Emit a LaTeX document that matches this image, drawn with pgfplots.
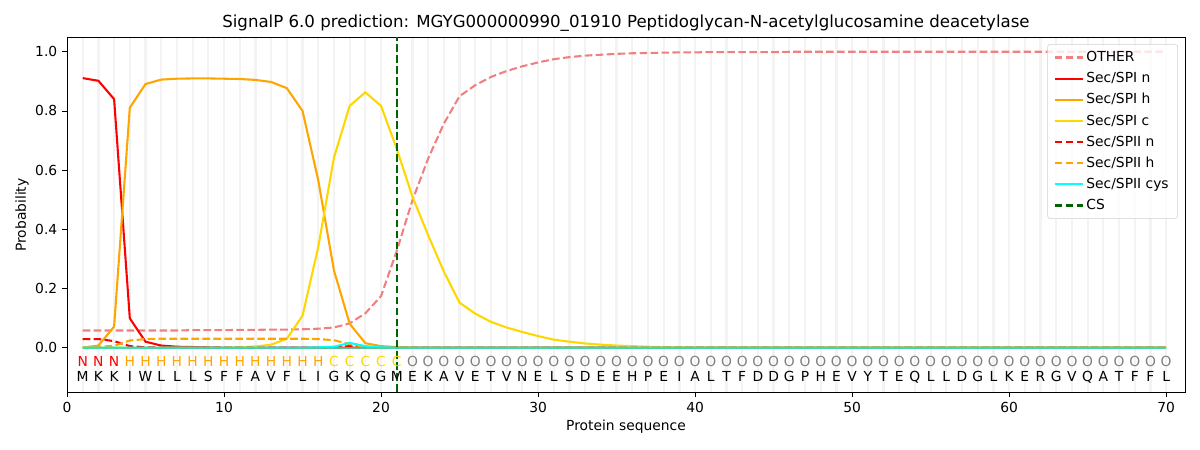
\documentclass[border=0pt]{standalone}
\usepackage{fontspec}
\setmainfont{DejaVu Sans}
\usepackage{pgfplots}
\usepackage{pgfplotstable}
\pgfplotsset{compat=1.18}
\definecolor{otherc}{HTML}{F08080}
\definecolor{orangeM}{HTML}{FFA500}
\definecolor{goldM}{HTML}{FFD700}
\definecolor{dgreen}{HTML}{006400}
\definecolor{gridc}{HTML}{F3F3F3}
\definecolor{greyM}{HTML}{808080}
\definecolor{cyanM}{HTML}{00FFFF}
\definecolor{tealM}{HTML}{3CD8A8}
\pgfplotstableread{
x other spin spih spic spiin spiih cys
1 0.058 0.911 0.000 0.000 0.029 0.000 0.000
2 0.058 0.902 0.007 0.000 0.029 0.003 0.000
3 0.058 0.840 0.071 0.000 0.022 0.006 0.000
4 0.058 0.099 0.811 0.000 0.005 0.024 0.000
5 0.058 0.020 0.891 0.000 0.001 0.029 0.000
6 0.058 0.007 0.906 0.000 0.000 0.030 0.000
7 0.058 0.003 0.909 0.000 0.000 0.030 0.000
8 0.059 0.002 0.910 0.000 0.000 0.030 0.000
9 0.059 0.001 0.910 0.000 0.000 0.030 0.000
10 0.059 0.000 0.909 0.000 0.000 0.030 0.000
11 0.060 0.000 0.908 0.001 0.000 0.030 0.000
12 0.060 0.000 0.905 0.004 0.000 0.030 0.000
13 0.061 0.000 0.898 0.010 0.000 0.030 0.000
14 0.061 0.000 0.877 0.030 0.000 0.030 0.000
15 0.062 0.000 0.800 0.108 0.000 0.030 0.000
16 0.064 0.000 0.566 0.340 0.000 0.029 0.001
17 0.068 0.000 0.261 0.642 0.001 0.025 0.003
18 0.082 0.000 0.081 0.817 0.005 0.012 0.016
19 0.116 0.000 0.015 0.863 0.001 0.002 0.005
20 0.174 0.000 0.005 0.817 0.000 0.000 0.001
21 0.327 0.000 0.002 0.672 0.000 0.000 0.000
22 0.498 0.000 0.000 0.510 0.000 0.000 0.000
23 0.639 0.000 0.000 0.380 0.000 0.000 0.000
24 0.757 0.000 0.000 0.257 0.000 0.000 0.000
25 0.850 0.000 0.000 0.152 0.000 0.000 0.000
26 0.887 0.000 0.000 0.115 0.000 0.000 0.000
27 0.915 0.000 0.000 0.087 0.000 0.000 0.000
28 0.935 0.000 0.000 0.068 0.000 0.000 0.000
29 0.951 0.000 0.000 0.053 0.000 0.000 0.000
30 0.964 0.000 0.000 0.039 0.000 0.000 0.000
31 0.975 0.000 0.000 0.027 0.000 0.000 0.000
32 0.982 0.000 0.000 0.020 0.000 0.000 0.000
33 0.987 0.000 0.000 0.014 0.000 0.000 0.000
34 0.990 0.000 0.000 0.010 0.000 0.000 0.000
35 0.993 0.000 0.000 0.007 0.000 0.000 0.000
36 0.995 0.000 0.000 0.005 0.000 0.000 0.000
37 0.996 0.000 0.000 0.003 0.000 0.000 0.000
38 0.997 0.000 0.000 0.002 0.000 0.000 0.000
39 0.998 0.000 0.000 0.001 0.000 0.000 0.000
40 0.998 0.000 0.000 0.000 0.000 0.000 0.000
41 0.999 0.000 0.000 0.000 0.000 0.000 0.000
42 0.999 0.000 0.000 0.000 0.000 0.000 0.000
43 0.999 0.000 0.000 0.000 0.000 0.000 0.000
44 0.999 0.000 0.000 0.000 0.000 0.000 0.000
45 0.999 0.000 0.000 0.000 0.000 0.000 0.000
46 1.000 0.000 0.000 0.000 0.000 0.000 0.000
47 1.000 0.000 0.000 0.000 0.000 0.000 0.000
48 1.000 0.000 0.000 0.000 0.000 0.000 0.000
49 1.000 0.000 0.000 0.000 0.000 0.000 0.000
50 1.000 0.000 0.000 0.000 0.000 0.000 0.000
51 1.000 0.000 0.000 0.000 0.000 0.000 0.000
52 1.000 0.000 0.000 0.000 0.000 0.000 0.000
53 1.000 0.000 0.000 0.000 0.000 0.000 0.000
54 1.000 0.000 0.000 0.000 0.000 0.000 0.000
55 1.000 0.000 0.000 0.000 0.000 0.000 0.000
56 1.000 0.000 0.000 0.000 0.000 0.000 0.000
57 1.000 0.000 0.000 0.000 0.000 0.000 0.000
58 1.000 0.000 0.000 0.000 0.000 0.000 0.000
59 1.000 0.000 0.000 0.000 0.000 0.000 0.000
60 1.000 0.000 0.000 0.000 0.000 0.000 0.000
61 1.000 0.000 0.000 0.000 0.000 0.000 0.000
62 1.000 0.000 0.000 0.000 0.000 0.000 0.000
63 1.000 0.000 0.000 0.000 0.000 0.000 0.000
64 1.000 0.000 0.000 0.000 0.000 0.000 0.000
65 1.000 0.000 0.000 0.000 0.000 0.000 0.000
66 1.000 0.000 0.000 0.000 0.000 0.000 0.000
67 1.000 0.000 0.000 0.000 0.000 0.000 0.000
68 1.000 0.000 0.000 0.000 0.000 0.000 0.000
69 1.000 0.000 0.000 0.000 0.000 0.000 0.000
70 1.000 0.000 0.000 0.000 0.000 0.000 0.000
}\sigdata
\begin{document}
\begin{tikzpicture}
\path (0,0) rectangle (864bp,324bp);
\begin{axis}[
  at={(48.24bp,41.76bp)}, anchor=south west,
  scale only axis, width=804.96bp, height=255.6bp,
  xmin=0, xmax=71.2, ymin=-0.15, ymax=1.05,
  xtick={0,10,...,70}, ytick={0,0.2,0.4,0.6,0.8,1.0},
  yticklabel style={/pgf/number format/.cd, fixed, fixed zerofill, precision=1},
  /pgf/number format/assume math mode=true,
  tick align=outside, xtick pos=bottom, ytick pos=left,
  major tick length=3.5bp,
  tick style={black, line width=0.6bp},
  axis line style={line width=0.6bp},
  minor xtick={1,...,70}, minor tick length=0pt,
  xminorgrids, minor grid style={gridc, line width=1.6bp},
  ticklabel style={font=\fontsize{10}{12}\selectfont},
  legend style={at={(0.9937,0.980)}, anchor=north east,
    draw=black!18, rounded corners=2bp, fill=white, fill opacity=0.8, text opacity=1,
    font=\fontsize{10}{12}\selectfont, row sep=2.3bp, inner xsep=4.5bp, inner ysep=3bp},
  legend cell align=left,
  legend image code/.code={\draw[#1] (0bp,0bp) -- (20bp,0bp);},
  every axis plot/.append style={line width=1.5bp},
]
\addplot[otherc, dash pattern=on 5.5bp off 2.4bp] table[x=x,y=other] {\sigdata};
\addlegendentry{OTHER}
\addplot[red] table[x=x,y=spin] {\sigdata};
\addlegendentry{Sec/SPI n}
\addplot[orangeM] table[x=x,y=spih] {\sigdata};
\addlegendentry{Sec/SPI h}
\addplot[goldM] table[x=x,y=spic] {\sigdata};
\addlegendentry{Sec/SPI c}
\addplot[red, dash pattern=on 5.5bp off 2.4bp] table[x=x,y=spiin] {\sigdata};
\addlegendentry{Sec/SPII n}
\addplot[orangeM, dash pattern=on 5.5bp off 2.4bp] table[x=x,y=spiih] {\sigdata};
\addlegendentry{Sec/SPII h}
\addplot[cyanM] table[x=x,y=cys] {\sigdata};
\addlegendentry{Sec/SPII cys}
\addplot[dgreen, dash pattern=on 5.5bp off 2.4bp] coordinates {(21,-0.15) (21,1.05)};
\addlegendentry{CS}
\addplot[tealM, line width=0.9bp, opacity=0.8, forget plot] coordinates {(1,-0.0015) (70,-0.0015)};
\foreach \r [count=\i] in {M,K,K,I,W,L,L,L,S,F,F,A,V,F,L,I,G,K,Q,G,M,E,K,A,V,E,T,V,N,E,L,S,D,E,E,H,P,E,I,A,L,T,F,D,D,G,P,H,E,V,Y,T,E,Q,L,L,D,G,L,K,E,R,G,V,Q,A,T,F,F,L}{
  \edef\tmp{\noexpand\node[font=\noexpand\fontsize{10}{12}\noexpand\selectfont, text=black] at (axis cs:\i,-0.099) {\r};}\tmp
}
\foreach \i in {1,2,3}{\edef\tmp{\noexpand\node[font=\noexpand\fontsize{10}{12}\noexpand\selectfont, text=red] at (axis cs:\i,-0.046) {N};}\tmp}
\foreach \i in {4,...,16}{\edef\tmp{\noexpand\node[font=\noexpand\fontsize{10}{12}\noexpand\selectfont, text=orangeM] at (axis cs:\i,-0.046) {H};}\tmp}
\foreach \i in {17,...,21}{\edef\tmp{\noexpand\node[font=\noexpand\fontsize{10}{12}\noexpand\selectfont, text=goldM] at (axis cs:\i,-0.046) {C};}\tmp}
\foreach \i in {22,...,70}{\edef\tmp{\noexpand\node[font=\noexpand\fontsize{10}{12}\noexpand\selectfont, text=greyM] at (axis cs:\i,-0.046) {O};}\tmp}
\end{axis}
\node[font=\fontsize{12}{14}\selectfont] at (450.7bp,307.4bp) {SignalP 6.0 prediction: MGYG000000990\_01910 Peptidoglycan-N-acetylglucosamine deacetylase};
\node[font=\fontsize{10}{12}\selectfont] at (450.7bp,16.6bp) {Protein sequence};
\node[font=\fontsize{10}{12}\selectfont, rotate=90] at (15.8bp,169.2bp) {Probability};
\end{tikzpicture}
\end{document}
